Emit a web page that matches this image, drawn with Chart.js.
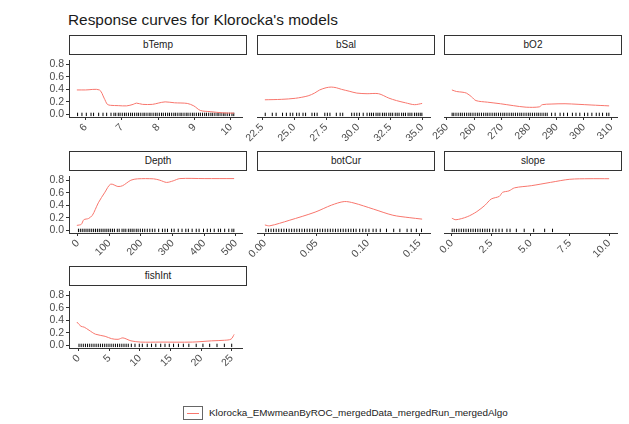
<!DOCTYPE html>
<html>
<head>
<meta charset="utf-8">
<script src="https://cdn.jsdelivr.net/npm/chart.js@4.4.1/dist/chart.umd.min.js"></script>
<style>
  html, body { margin: 0; padding: 0; background: #fff; }
  body { width: 629px; height: 424px; position: relative; overflow: hidden;
         font-family: "Liberation Sans", Arial, sans-serif; }
  #title { position: absolute; left: 68px; top: 11px; font-size: 15.4px; line-height: 17px; color: #1a1a1a; white-space: nowrap; }
  .strip { position: absolute; box-sizing: border-box; height: 20px; border: 1.5px solid #333; background: #fff;
           font-size: 10px; line-height: 17px; text-align: center; color: #1a1a1a; }
  canvas.panel { position: absolute; }
  #legendKey { position: absolute; left: 183px; top: 406px; width: 20px; height: 14px; box-sizing: border-box; border: 1px solid #666; background: #fff; }
  #legendKey div { position: absolute; left: 3px; right: 3px; top: 5.5px; height: 1px; background: #F8766D; }
  #legendText { position: absolute; left: 209px; top: 406px; font-size: 9.85px; line-height: 14px; color: #1a1a1a; white-space: nowrap; }
</style>
</head>
<body>
<div id="title">Response curves for Klorocka's models</div>
<div id="legendKey"><div></div></div>
<div id="legendText">Klorocka_EMwmeanByROC_mergedData_mergedRun_mergedAlgo</div>
<script>
// ---- response curve data ----
const panelNames = ['bTemp', 'bSal', 'bO2', 'Depth', 'botCur', 'slope', 'fishInt'];

const bTempX = [5.76, 6.0, 6.38, 6.51, 6.6, 6.69, 6.9, 7.13, 7.31, 7.4, 7.57, 7.84, 8.0, 8.19, 8.45, 8.8, 8.98, 9.16, 9.43, 9.78, 10.09];
const bTempY = [0.39, 0.39, 0.39, 0.26, 0.16, 0.145, 0.14, 0.136, 0.16, 0.18, 0.16, 0.16, 0.18, 0.2, 0.185, 0.175, 0.136, 0.063, 0.044, 0.025, 0.02];

const bSalX = [22.72, 24.0, 25.1, 26.1, 26.6, 27.0, 27.5, 27.9, 28.3, 28.7, 29.3, 29.9, 30.7, 31.6, 32.4, 33.0, 33.7, 34.4, 35.0];
const bSalY = [0.233, 0.24, 0.257, 0.296, 0.34, 0.39, 0.425, 0.436, 0.425, 0.4, 0.37, 0.34, 0.33, 0.33, 0.26, 0.22, 0.185, 0.155, 0.175];

const bO2X = [251.8, 253.5, 255.5, 257.1, 259, 260.6, 264.8, 269.5, 274.2, 278.9, 283.7, 284.8, 288, 293.1, 302.6, 309.2];
const bO2Y = [0.39, 0.365, 0.355, 0.34, 0.28, 0.22, 0.195, 0.17, 0.14, 0.115, 0.12, 0.155, 0.165, 0.17, 0.15, 0.136];

const depthX = [-3, 11, 19, 34, 46, 55, 65, 86, 104, 127, 142, 168, 189, 240, 260, 281, 302, 323, 400, 495];
const depthY = [0.08, 0.097, 0.17, 0.19, 0.24, 0.33, 0.44, 0.61, 0.737, 0.70, 0.713, 0.8, 0.822, 0.822, 0.80, 0.765, 0.79, 0.826, 0.826, 0.826];

const botCurX = [0.0, 0.0047, 0.0236, 0.0487, 0.0645, 0.077, 0.0865, 0.1053, 0.1242, 0.14, 0.1526];
const botCurY = [0.087, 0.073, 0.16, 0.291, 0.402, 0.46, 0.436, 0.34, 0.242, 0.204, 0.18];

const slopeX = [0, 0.26, 0.98, 1.59, 2.1, 2.5, 3.02, 3.22, 3.63, 3.99, 5.05, 6.28, 7.5, 8.72, 10.0];
const slopeY = [0.194, 0.17, 0.218, 0.3, 0.4, 0.5, 0.543, 0.606, 0.63, 0.679, 0.713, 0.766, 0.815, 0.824, 0.824];

const fishIntX = [-0.3, 0.37, 0.9, 1.69, 2.74, 4.32, 5.38, 6.43, 7.23, 8.54, 10.13, 13.3, 18.57, 21.73, 23.84, 24.9, 25.4];
const fishIntY = [0.373, 0.305, 0.291, 0.242, 0.179, 0.145, 0.107, 0.097, 0.12, 0.073, 0.053, 0.053, 0.053, 0.073, 0.082, 0.1, 0.175];

// ---- observation rugs ----
const bTempRug = [5.78, 5.9, 6.02, 6.15, 6.22, 6.36, 6.48, 6.58, 6.7, 6.78, 6.83, 6.9, 6.95, 7.01, 7.07, 7.12, 7.18, 7.24, 7.29,
  7.35, 7.41, 7.46, 7.52, 7.58, 7.63, 7.69, 7.75, 7.8, 7.86, 7.92, 7.97, 8.03, 8.09, 8.14, 8.2, 8.26, 8.31, 8.37, 8.43, 8.48,
  8.54, 8.6, 8.65, 8.71, 8.77, 8.82, 8.88, 8.94, 8.99, 9.05, 9.11, 9.16, 9.22, 9.28, 9.33, 9.39, 9.45, 9.5, 9.56, 9.62, 9.67,
  9.73, 9.79, 9.84, 9.9, 9.96, 10.03, 10.08];
const bSalRug = [22.75, 23.3, 23.6, 24.1, 24.4, 24.7, 24.9, 25.2, 25.4, 25.7, 25.9, 26.4, 26.6, 26.8, 27.4, 27.6, 27.8, 28.3,
  28.6, 28.8, 29.5, 29.7, 29.9, 30.1, 30.4, 30.7, 30.9, 31.05, 31.2, 31.4, 31.55, 31.7, 31.9, 32.05, 32.2, 32.4, 32.55, 32.7,
  32.9, 33.05, 33.2, 33.4, 33.55, 33.7, 33.9, 34.05, 34.2, 34.4, 34.55, 34.7, 34.85, 34.98];
const bO2Rug = [251.9, 252.5, 253.3, 254.1, 254.9, 255.6, 256.4, 257.2, 258, 258.7, 259.5, 260.3, 261.1, 261.8, 262.6, 263.4,
  264.2, 264.9, 265.7, 266.5, 267.3, 268, 268.8, 269.6, 270.4, 271.1, 271.9, 272.7, 273.5, 274.2, 275, 275.8, 276.6, 277.3,
  278.1, 278.9, 279.7, 280.4, 281.2, 282, 282.8, 283.5, 284.3, 285.1, 285.9, 286.6, 288.2, 289.5, 291.3, 292.6, 294, 295.8,
  297.1, 298.5, 300.2, 301.4, 302.9, 304.5, 305.6, 306.8, 308.3, 309.1];
const depthRug = [2, 8, 14, 20, 26, 32, 38, 44, 50, 56, 62, 68, 74, 80, 86, 92, 98, 104, 110, 116, 125, 131, 140, 146, 152,
  160, 166, 172, 178, 185, 191, 198, 205, 212, 220, 228, 236, 244, 256, 268, 276, 284, 297, 305, 318, 330, 342, 350, 362,
  375, 384, 398, 410, 420, 432, 445, 452, 465, 478, 488, 494];
const botCurRug = [0.001, 0.0035, 0.006, 0.0085, 0.011, 0.0135, 0.016, 0.0185, 0.021, 0.0235, 0.026, 0.0285, 0.031, 0.0335,
  0.036, 0.0385, 0.041, 0.0435, 0.046, 0.0485, 0.051, 0.0535, 0.056, 0.0585, 0.061, 0.0635, 0.066, 0.0685, 0.071, 0.0735,
  0.076, 0.0785, 0.081, 0.0835, 0.086, 0.0885, 0.092, 0.095, 0.098, 0.101, 0.105, 0.108, 0.112, 0.118, 0.125, 0.131, 0.138,
  0.142, 0.147, 0.152];
const slopeRug = [0.02, 0.15, 0.3, 0.45, 0.6, 0.75, 0.9, 1.05, 1.2, 1.35, 1.5, 1.65, 1.8, 1.95, 2.1, 2.25, 2.4, 2.6, 2.8,
  3.0, 3.2, 3.5, 3.7, 4.1, 4.6, 5.2, 5.9, 6.4];
const fishIntRug = [0.05, 0.4, 0.75, 1.1, 1.45, 1.8, 2.15, 2.5, 2.85, 3.2, 3.55, 3.9, 4.25, 4.6, 4.95, 5.3, 5.65, 6.0, 6.35,
  6.7, 7.05, 7.4, 7.75, 8.1, 8.6, 9.2, 9.9, 10.4, 11.2, 11.9, 12.6, 13.4, 14.1, 14.8, 15.5, 16.3, 17.1, 18, 19.2, 20.3,
  21.4, 22.6, 23.8, 25.0];

// ---- axis ticks ----
const yTicks = [0, 0.2, 0.4, 0.6, 0.8];
const yLabels = ['0.0', '0.2', '0.4', '0.6', '0.8'];
const bTempTicks = [6, 7, 8, 9, 10];
const bTempLabels = ['6', '7', '8', '9', '10'];
const bSalTicks = [22.5, 25, 27.5, 30, 32.5, 35];
const bSalLabels = ['22.5', '25.0', '27.5', '30.0', '32.5', '35.0'];
const bO2Ticks = [250, 260, 270, 280, 290, 300, 310];
const bO2Labels = ['250', '260', '270', '280', '290', '300', '310'];
const depthTicks = [0, 100, 200, 300, 400, 500];
const depthLabels = ['0', '100', '200', '300', '400', '500'];
const botCurTicks = [0, 0.05, 0.1, 0.15];
const botCurLabels = ['0.00', '0.05', '0.10', '0.15'];
const slopeTicks = [0, 2.5, 5, 7.5, 10];
const slopeLabels = ['0.0', '2.5', '5.0', '7.5', '10.0'];
const fishIntTicks = [0, 5, 10, 15, 20, 25];
const fishIntLabels = ['0', '5', '10', '15', '20', '25'];

const seriesName = 'Klorocka_EMwmeanByROC_mergedData_mergedRun_mergedAlgo';

// ---- facet layout ----
const panels = [
  { name: panelNames[0], xs: bTempX, ys: bTempY, rug: bTempRug, ticks: bTempTicks, labels: bTempLabels },
  { name: panelNames[1], xs: bSalX, ys: bSalY, rug: bSalRug, ticks: bSalTicks, labels: bSalLabels },
  { name: panelNames[2], xs: bO2X, ys: bO2Y, rug: bO2Rug, ticks: bO2Ticks, labels: bO2Labels },
  { name: panelNames[3], xs: depthX, ys: depthY, rug: depthRug, ticks: depthTicks, labels: depthLabels },
  { name: panelNames[4], xs: botCurX, ys: botCurY, rug: botCurRug, ticks: botCurTicks, labels: botCurLabels },
  { name: panelNames[5], xs: slopeX, ys: slopeY, rug: slopeRug, ticks: slopeTicks, labels: slopeLabels },
  { name: panelNames[6], xs: fishIntX, ys: fishIntY, rug: fishIntRug, ticks: fishIntTicks, labels: fishIntLabels }
];

const colLeft = [69, 257, 444];
const rowTop = [55, 171, 286];
const PW = 178, PH = 62;      // plotting region of a facet
const YW = 40, XH = 36;       // room for y and x axes
const STRIP_H = 20;

// shared y range: 0 .. max of all curves, expanded by 5%
const allY = panels.flatMap(p => p.ys).concat([0]);
const yLo = Math.min(...allY), yHi = Math.max(...allY);
const yMin = yLo - 0.05 * (yHi - yLo), yMax = yHi + 0.05 * (yHi - yLo);

const tickFont = { family: '"Liberation Sans", Arial, sans-serif', size: 10.5 };
const axisColor = '#333333';
const tickColor = '#4d4d4d';

panels.forEach((p, i) => {
  const col = i % 3, row = Math.floor(i / 3);
  const left = colLeft[col], top = rowTop[row];

  const strip = document.createElement('div');
  strip.className = 'strip';
  strip.style.left = left + 'px';
  strip.style.top = (top - STRIP_H) + 'px';
  strip.style.width = PW + 'px';
  strip.textContent = p.name;
  document.body.appendChild(strip);

  const cv = document.createElement('canvas');
  cv.className = 'panel';
  cv.width = YW + PW;
  cv.height = PH + XH;
  cv.style.left = (left - YW) + 'px';
  cv.style.top = top + 'px';
  document.body.appendChild(cv);

  // free x scale: data extent expanded by 5%
  const allX = p.xs.concat(p.rug);
  const xLo = Math.min(...allX), xHi = Math.max(...allX);
  const xMin = xLo - 0.05 * (xHi - xLo), xMax = xHi + 0.05 * (xHi - xLo);
  const firstCol = col === 0;

  new Chart(cv, {
    type: 'line',
    data: {
      datasets: [
        {
          label: seriesName,
          data: p.xs.map((x, k) => ({ x: x, y: p.ys[k] })),
          borderColor: '#F8766D',
          borderWidth: 1,
          pointRadius: 0,
          tension: 0.3,
          fill: false
        },
        {
          label: 'rug',
          data: p.rug.map(x => ({ x: x, y: 0 })),
          showLine: false,
          pointStyle: 'line',
          rotation: 90,
          pointRadius: 1.7,
          borderColor: '#000',
          borderWidth: 1
        }
      ]
    },
    options: {
      responsive: false,
      animation: false,
      events: [],
      layout: { padding: 0 },
      plugins: { legend: { display: false }, tooltip: { enabled: false }, title: { display: false } },
      scales: {
        x: {
          type: 'linear',
          min: xMin,
          max: xMax,
          afterBuildTicks: s => { s.ticks = p.ticks.map(v => ({ value: v })); },
          afterFit: s => { s.height = XH; s.paddingLeft = 0; s.paddingRight = 0; },
          ticks: {
            autoSkip: false,
            minRotation: 45,
            maxRotation: 45,
            padding: 1,
            color: tickColor,
            font: tickFont,
            callback: (v, k) => p.labels[k]
          },
          grid: { display: true, drawOnChartArea: false, drawTicks: true, tickLength: 3, color: axisColor, lineWidth: 1 },
          border: { display: true, color: axisColor, width: 1 }
        },
        y: {
          type: 'linear',
          min: yMin,
          max: yMax,
          afterBuildTicks: s => { s.ticks = yTicks.map(v => ({ value: v })); },
          afterFit: s => { s.width = YW; s.paddingTop = 0; s.paddingBottom = 0; },
          ticks: {
            display: firstCol,
            autoSkip: false,
            padding: 2,
            color: tickColor,
            font: tickFont,
            callback: (v, k) => yLabels[k]
          },
          grid: { display: firstCol, drawOnChartArea: false, drawTicks: true, tickLength: 3, color: axisColor, lineWidth: 1 },
          border: { display: firstCol, color: axisColor, width: 1 }
        }
      }
    }
  });
});
</script>
</body>
</html>
